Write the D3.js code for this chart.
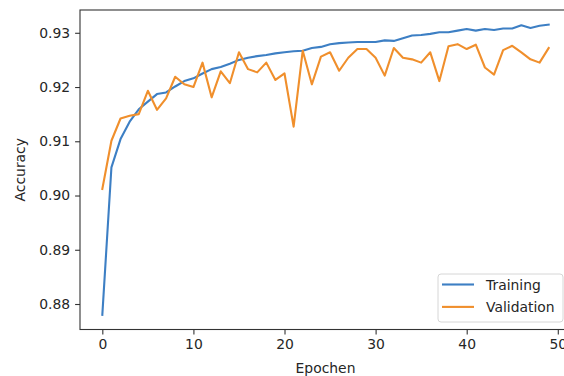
<!DOCTYPE html>
<html>
<head>
<meta charset="utf-8">
<script src="https://cdn.jsdelivr.net/npm/d3@7"></script>
<style>
  body { margin: 0; background: #fff; }
  svg { display: block; font-family: "DejaVu Sans", sans-serif; }
</style>
</head>
<body>
<script>
// values
const epochs = d3.range(0, 50);
const training = [
  0.8780, 0.9052, 0.9104, 0.9136, 0.9159, 0.9173, 0.9187, 0.9190, 0.9201, 0.9211,
  0.9216, 0.9225, 0.9233, 0.9237, 0.9243, 0.9250, 0.9254, 0.9257, 0.9259, 0.9262,
  0.9264, 0.9266, 0.9267, 0.9272, 0.9274, 0.9279, 0.9281, 0.9282, 0.9283, 0.9283,
  0.9283, 0.9286, 0.9285, 0.9290, 0.9295, 0.9296, 0.9298, 0.9301, 0.9301, 0.9304,
  0.9307, 0.9304, 0.9307, 0.9305, 0.9308, 0.9308, 0.9314, 0.9309, 0.9313, 0.9315
];
const validation = [
  0.9012, 0.9101, 0.9142, 0.9147, 0.9150, 0.9193, 0.9158, 0.9179, 0.9219, 0.9205,
  0.9200, 0.9245, 0.9181, 0.9229, 0.9207, 0.9264, 0.9233, 0.9227, 0.9245, 0.9213,
  0.9225, 0.9127, 0.9267, 0.9205, 0.9256, 0.9264, 0.9230, 0.9254, 0.9270, 0.9270,
  0.9254, 0.9221, 0.9272, 0.9254, 0.9251, 0.9245, 0.9264, 0.9211, 0.9275, 0.9279,
  0.9270, 0.9278, 0.9236, 0.9223, 0.9268, 0.9276, 0.9264, 0.9251, 0.9245, 0.9272
];
const xTicks = [0, 10, 20, 30, 40, 50];
const yTicks = [0.88, 0.89, 0.90, 0.91, 0.92, 0.93];
const seriesNames = ["Training", "Validation"];
const seriesColors = ["#3d7fc4", "#f08f2c"];

const width = 564;
const height = 376;
const margin = { top: 10, right: -7, bottom: 46.5, left: 80 };

const svg = d3.select("body").append("svg")
  .attr("width", width)
  .attr("height", height);

const x = d3.scaleLinear()
  .domain([-2.45, 51.45])
  .range([margin.left, width - margin.right]);

const y = d3.scaleLinear()
  .domain([0.8753, 0.9342])
  .range([height - margin.bottom, margin.top]);

const fontSize = 13.9;
const textColor = "#262626";

// x axis
const xAxis = svg.append("g")
  .attr("transform", `translate(0,${height - margin.bottom})`)
  .call(d3.axisBottom(x).tickValues(xTicks).tickFormat(d3.format("d"))
    .tickSizeOuter(0).tickSize(4.9).tickPadding(4.9));

// y axis
const yAxis = svg.append("g")
  .attr("transform", `translate(${margin.left},0)`)
  .call(d3.axisLeft(y).tickValues(yTicks).tickFormat(d3.format(".2f"))
    .tickSizeOuter(0).tickSize(4.9).tickPadding(4.9));

[xAxis, yAxis].forEach((g) => {
  g.select(".domain").remove();
  g.selectAll(".tick line").attr("stroke", "#333").attr("stroke-width", 1.1);
  g.selectAll(".tick text")
    .attr("fill", textColor)
    .style("font-size", fontSize + "px")
    .style("font-family", "DejaVu Sans");
});

// frame (spines)
svg.append("rect")
  .attr("x", x.range()[0])
  .attr("y", y.range()[1])
  .attr("width", x.range()[1] - x.range()[0])
  .attr("height", y.range()[0] - y.range()[1])
  .attr("fill", "none")
  .attr("stroke", "#333")
  .attr("stroke-width", 1.1);

const line = d3.line()
  .x((d, i) => x(epochs[i]))
  .y((d) => y(d));

[training, validation].forEach((values, k) => {
  svg.append("path")
    .datum(values)
    .attr("d", line)
    .attr("fill", "none")
    .attr("stroke", seriesColors[k])
    .attr("stroke-width", 2.1)
    .attr("stroke-linejoin", "round")
    .attr("stroke-linecap", "square");
});

// axis labels
svg.append("text")
  .attr("x", (x.range()[0] + x.range()[1]) / 2)
  .attr("y", 373)
  .attr("text-anchor", "middle")
  .attr("fill", textColor)
  .style("font-size", fontSize + "px")
  .text("Epochen");

svg.append("text")
  .attr("transform", `translate(25,${(y.range()[0] + y.range()[1]) / 2}) rotate(-90)`)
  .attr("text-anchor", "middle")
  .attr("fill", textColor)
  .style("font-size", fontSize + "px")
  .text("Accuracy");

// legend
const legend = svg.append("g").attr("transform", "translate(438,274)");
legend.append("rect")
  .attr("width", 125)
  .attr("height", 48)
  .attr("rx", 3)
  .attr("fill", "#fff")
  .attr("fill-opacity", 0.8)
  .attr("stroke", "#d6d6d6")
  .attr("stroke-width", 1);

seriesNames.forEach((name, k) => {
  const cy = 10.5 + k * 22.4;
  legend.append("line")
    .attr("x1", 4).attr("x2", 36)
    .attr("y1", cy).attr("y2", cy)
    .attr("stroke", seriesColors[k])
    .attr("stroke-width", 2.1);
  legend.append("text")
    .attr("x", 48)
    .attr("y", cy + 5)
    .attr("fill", textColor)
    .style("font-size", fontSize + "px")
    .text(name);
});
</script>
</body>
</html>
